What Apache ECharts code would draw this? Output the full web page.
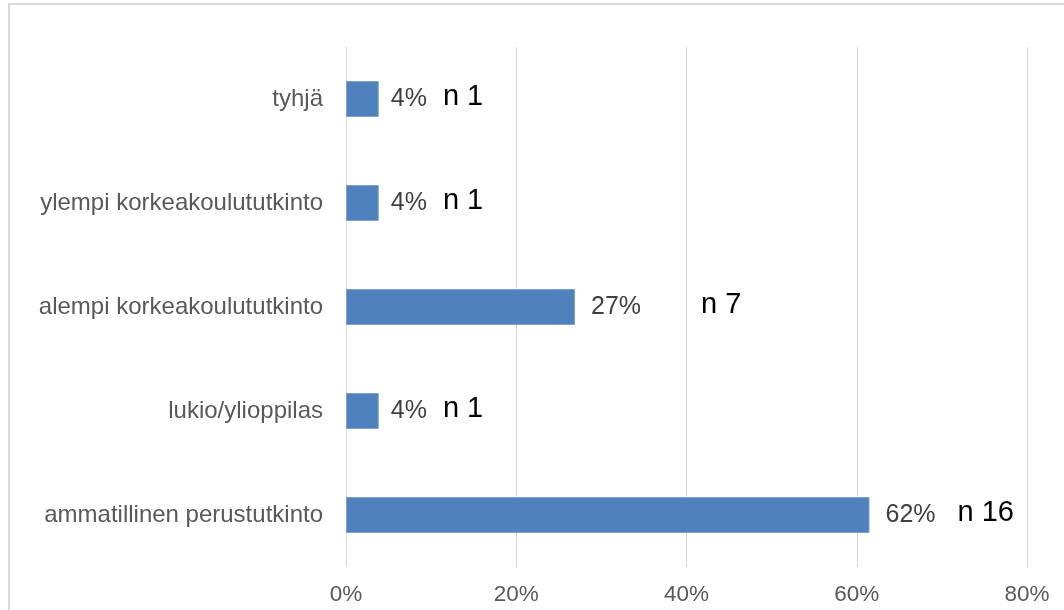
<!DOCTYPE html>
<html>
<head>
<meta charset="utf-8">
<script src="https://cdn.jsdelivr.net/npm/echarts@6/dist/echarts.min.js"></script>
<style>
html,body{margin:0;padding:0;background:#fff;}
#frame{position:absolute;left:8px;top:3px;width:1100px;height:700px;border-left:2px solid #d9d9d9;border-top:2px solid #d9d9d9;box-sizing:border-box;}
#chart{position:absolute;left:0;top:0;width:1064px;height:610px;}
</style>
</head>
<body>
<div id="frame"></div>
<div id="chart"></div>
<script>
// Categories listed bottom to top
const categories = ['ammatillinen perustutkinto', 'lukio/ylioppilas', 'alempi korkeakoulututkinto', 'ylempi korkeakoulututkinto', 'tyhjä'];
const percentValues = [61.5, 3.85, 26.9, 3.85, 3.85];
const nCounts = [16, 1, 7, 1, 1];
const xTicks = [0, 20, 40, 60, 80];

const labelDist = [16, 12, 16, 12, 12];
const nGap = [22, 16, 60, 16, 16];

const chart = echarts.init(document.getElementById('chart'), null, {renderer: 'canvas'});
const font = 'Liberation Sans, Arial, sans-serif';

chart.setOption({
  animation: false,
  grid: {left: 346, right: 37, top: 47, bottom: 43, containLabel: false},
  xAxis: {
    type: 'value',
    min: xTicks[0],
    max: xTicks[xTicks.length - 1],
    interval: 20,
    axisLine: {show: false},
    axisTick: {show: false},
    splitLine: {show: true, lineStyle: {color: '#d9d9d9', width: 1}},
    axisLabel: {formatter: v => v + '%', color: '#595959', fontSize: 22.5, fontFamily: font, margin: 16}
  },
  yAxis: {
    type: 'category',
    data: categories,
    axisLine: {show: false},
    axisTick: {show: false},
    axisLabel: {color: '#595959', fontSize: 24, fontFamily: font, margin: 23}
  },
  series: [{
    type: 'bar',
    barWidth: 36,
    itemStyle: {color: '#4f81bd', borderColor: '#7fa3d0', borderWidth: 1},
    data: percentValues.map((v, i) => ({
      value: v,
      label: {
        show: true,
        position: 'right',
        distance: labelDist[i],
        formatter: '{p|' + Math.round(v) + '%}{n|n ' + nCounts[i] + '}',
        rich: {
          p: {color: '#404040', fontSize: 25, fontFamily: font},
          n: {color: '#000000', fontSize: 29, fontFamily: font, padding: [0, 0, 4, nGap[i]]}
        }
      }
    }))
  }]
});
</script>
</body>
</html>
